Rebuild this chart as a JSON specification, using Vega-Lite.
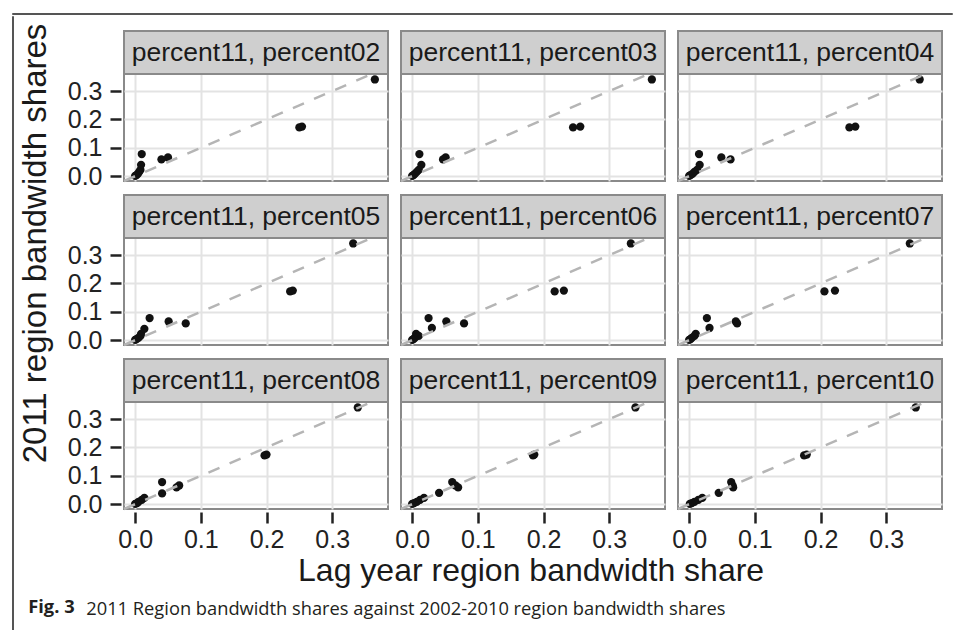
{
  "$schema": "https://vega.github.io/schema/vega-lite/v6.json",
  "background": "white",
  "padding": {"left": 11, "top": 12, "right": 0, "bottom": 0},
  "config": {
    "font": "Liberation Sans",
    "view": {"stroke": "#8a8a8a", "strokeWidth": 2},
    "concat": {"spacing": 0},
    "header": {"labels": false, "title": null, "labelFontSize": 0.01, "labelPadding": 0},
    "headerFacet": {"labels": false, "title": null, "labelFontSize": 0.01, "labelPadding": 0}
  },
  "spacing": 0,
  "vconcat": [
    {
      "width": 940, "height": 1,
      "data": {"values": []},
      "mark": "rule",
      "encoding": {},
      "view": {"stroke": "#555555", "strokeWidth": 1}
    },
    {
      "spacing": 6,
      "hconcat": [
        {
          "width": 1, "height": 616,
          "data": {"values": []},
          "mark": "rule",
          "encoding": {},
          "view": {"stroke": "#555555", "strokeWidth": 1}
        },
        {
          "spacing": 6,
          "vconcat": [
            {
              "width": 1, "height": 1,
              "data": {"values": []},
              "mark": "rule",
              "encoding": {},
              "view": {"stroke": null}
            },
            {
              "title": {"text": "Fig. 3", "orient": "bottom", "anchor": "start", "font": "Open Sans", "fontSize": 18.3, "fontWeight": "bold", "color": "#231f20", "offset": 0, "dx": 8, "dy": -19},
              "vconcat": [
                {
                  "title": {"text": "2011 Region bandwidth shares against 2002-2010 region bandwidth shares", "orient": "bottom", "anchor": "start", "font": "Open Sans", "fontSize": 18.3, "fontWeight": "normal", "color": "#231f20", "offset": 14, "dx": 66},
                  "vconcat": [
                    {
                      "title": {"text": "Lag year region bandwidth share", "orient": "bottom", "anchor": "middle", "fontSize": 32, "fontWeight": "normal", "color": "#1a1a1a", "offset": 4, "dx": 49},
                      "vconcat": [
                        {
                          "data": {"values": [
                            {"panel": "percent11, percent02", "r": "A", "lag": 0.365, "share": 0.341},
                            {"panel": "percent11, percent02", "r": "B", "lag": 0.254, "share": 0.175},
                            {"panel": "percent11, percent02", "r": "C", "lag": 0.250, "share": 0.172},
                            {"panel": "percent11, percent02", "r": "D", "lag": 0.010, "share": 0.078},
                            {"panel": "percent11, percent02", "r": "E", "lag": 0.050, "share": 0.066},
                            {"panel": "percent11, percent02", "r": "F", "lag": 0.040, "share": 0.059},
                            {"panel": "percent11, percent02", "r": "G", "lag": 0.009, "share": 0.040},
                            {"panel": "percent11, percent02", "r": "H", "lag": 0.008, "share": 0.022},
                            {"panel": "percent11, percent02", "r": "I", "lag": 0.006, "share": 0.015},
                            {"panel": "percent11, percent02", "r": "J", "lag": 0.004, "share": 0.008},
                            {"panel": "percent11, percent02", "r": "K", "lag": 0.002, "share": 0.004},
                            {"panel": "percent11, percent02", "r": "L", "lag": 0.000, "share": 0.001},
                            {"panel": "percent11, percent03", "r": "A", "lag": 0.365, "share": 0.341},
                            {"panel": "percent11, percent03", "r": "B", "lag": 0.256, "share": 0.175},
                            {"panel": "percent11, percent03", "r": "C", "lag": 0.245, "share": 0.172},
                            {"panel": "percent11, percent03", "r": "D", "lag": 0.011, "share": 0.078},
                            {"panel": "percent11, percent03", "r": "E", "lag": 0.051, "share": 0.066},
                            {"panel": "percent11, percent03", "r": "F", "lag": 0.047, "share": 0.059},
                            {"panel": "percent11, percent03", "r": "G", "lag": 0.014, "share": 0.040},
                            {"panel": "percent11, percent03", "r": "H", "lag": 0.010, "share": 0.022},
                            {"panel": "percent11, percent03", "r": "I", "lag": 0.007, "share": 0.015},
                            {"panel": "percent11, percent03", "r": "J", "lag": 0.004, "share": 0.008},
                            {"panel": "percent11, percent03", "r": "K", "lag": 0.002, "share": 0.004},
                            {"panel": "percent11, percent03", "r": "L", "lag": 0.000, "share": 0.001},
                            {"panel": "percent11, percent04", "r": "A", "lag": 0.351, "share": 0.341},
                            {"panel": "percent11, percent04", "r": "B", "lag": 0.253, "share": 0.175},
                            {"panel": "percent11, percent04", "r": "C", "lag": 0.244, "share": 0.172},
                            {"panel": "percent11, percent04", "r": "D", "lag": 0.015, "share": 0.078},
                            {"panel": "percent11, percent04", "r": "E", "lag": 0.049, "share": 0.066},
                            {"panel": "percent11, percent04", "r": "F", "lag": 0.063, "share": 0.059},
                            {"panel": "percent11, percent04", "r": "G", "lag": 0.016, "share": 0.040},
                            {"panel": "percent11, percent04", "r": "H", "lag": 0.012, "share": 0.022},
                            {"panel": "percent11, percent04", "r": "I", "lag": 0.008, "share": 0.015},
                            {"panel": "percent11, percent04", "r": "J", "lag": 0.005, "share": 0.008},
                            {"panel": "percent11, percent04", "r": "K", "lag": 0.002, "share": 0.004},
                            {"panel": "percent11, percent04", "r": "L", "lag": 0.000, "share": 0.001},
                            {"panel": "percent11, percent05", "r": "A", "lag": 0.332, "share": 0.341},
                            {"panel": "percent11, percent05", "r": "B", "lag": 0.240, "share": 0.175},
                            {"panel": "percent11, percent05", "r": "C", "lag": 0.236, "share": 0.172},
                            {"panel": "percent11, percent05", "r": "D", "lag": 0.022, "share": 0.078},
                            {"panel": "percent11, percent05", "r": "E", "lag": 0.051, "share": 0.066},
                            {"panel": "percent11, percent05", "r": "F", "lag": 0.077, "share": 0.059},
                            {"panel": "percent11, percent05", "r": "G", "lag": 0.014, "share": 0.040},
                            {"panel": "percent11, percent05", "r": "H", "lag": 0.009, "share": 0.022},
                            {"panel": "percent11, percent05", "r": "I", "lag": 0.008, "share": 0.015},
                            {"panel": "percent11, percent05", "r": "J", "lag": 0.005, "share": 0.008},
                            {"panel": "percent11, percent05", "r": "K", "lag": 0.002, "share": 0.004},
                            {"panel": "percent11, percent05", "r": "L", "lag": 0.000, "share": 0.001},
                            {"panel": "percent11, percent06", "r": "A", "lag": 0.333, "share": 0.341},
                            {"panel": "percent11, percent06", "r": "B", "lag": 0.231, "share": 0.175},
                            {"panel": "percent11, percent06", "r": "C", "lag": 0.217, "share": 0.172},
                            {"panel": "percent11, percent06", "r": "D", "lag": 0.025, "share": 0.078},
                            {"panel": "percent11, percent06", "r": "E", "lag": 0.052, "share": 0.066},
                            {"panel": "percent11, percent06", "r": "F", "lag": 0.079, "share": 0.059},
                            {"panel": "percent11, percent06", "r": "G", "lag": 0.030, "share": 0.043},
                            {"panel": "percent11, percent06", "r": "H", "lag": 0.006, "share": 0.022},
                            {"panel": "percent11, percent06", "r": "I", "lag": 0.010, "share": 0.015},
                            {"panel": "percent11, percent06", "r": "J", "lag": 0.004, "share": 0.008},
                            {"panel": "percent11, percent06", "r": "K", "lag": 0.002, "share": 0.004},
                            {"panel": "percent11, percent06", "r": "L", "lag": 0.000, "share": 0.001},
                            {"panel": "percent11, percent07", "r": "A", "lag": 0.336, "share": 0.341},
                            {"panel": "percent11, percent07", "r": "B", "lag": 0.222, "share": 0.175},
                            {"panel": "percent11, percent07", "r": "C", "lag": 0.206, "share": 0.172},
                            {"panel": "percent11, percent07", "r": "D", "lag": 0.027, "share": 0.078},
                            {"panel": "percent11, percent07", "r": "E", "lag": 0.071, "share": 0.066},
                            {"panel": "percent11, percent07", "r": "F", "lag": 0.073, "share": 0.059},
                            {"panel": "percent11, percent07", "r": "G", "lag": 0.031, "share": 0.043},
                            {"panel": "percent11, percent07", "r": "H", "lag": 0.010, "share": 0.022},
                            {"panel": "percent11, percent07", "r": "I", "lag": 0.008, "share": 0.015},
                            {"panel": "percent11, percent07", "r": "J", "lag": 0.004, "share": 0.008},
                            {"panel": "percent11, percent07", "r": "K", "lag": 0.002, "share": 0.004},
                            {"panel": "percent11, percent07", "r": "L", "lag": 0.000, "share": 0.001},
                            {"panel": "percent11, percent08", "r": "A", "lag": 0.339, "share": 0.341},
                            {"panel": "percent11, percent08", "r": "B", "lag": 0.200, "share": 0.175},
                            {"panel": "percent11, percent08", "r": "C", "lag": 0.197, "share": 0.172},
                            {"panel": "percent11, percent08", "r": "D", "lag": 0.041, "share": 0.078},
                            {"panel": "percent11, percent08", "r": "E", "lag": 0.067, "share": 0.066},
                            {"panel": "percent11, percent08", "r": "F", "lag": 0.063, "share": 0.059},
                            {"panel": "percent11, percent08", "r": "G", "lag": 0.041, "share": 0.038},
                            {"panel": "percent11, percent08", "r": "H", "lag": 0.014, "share": 0.022},
                            {"panel": "percent11, percent08", "r": "I", "lag": 0.010, "share": 0.015},
                            {"panel": "percent11, percent08", "r": "J", "lag": 0.005, "share": 0.008},
                            {"panel": "percent11, percent08", "r": "K", "lag": 0.003, "share": 0.004},
                            {"panel": "percent11, percent08", "r": "L", "lag": 0.000, "share": 0.001},
                            {"panel": "percent11, percent09", "r": "A", "lag": 0.340, "share": 0.341},
                            {"panel": "percent11, percent09", "r": "B", "lag": 0.186, "share": 0.175},
                            {"panel": "percent11, percent09", "r": "C", "lag": 0.184, "share": 0.172},
                            {"panel": "percent11, percent09", "r": "D", "lag": 0.061, "share": 0.078},
                            {"panel": "percent11, percent09", "r": "E", "lag": 0.066, "share": 0.066},
                            {"panel": "percent11, percent09", "r": "F", "lag": 0.070, "share": 0.059},
                            {"panel": "percent11, percent09", "r": "G", "lag": 0.041, "share": 0.040},
                            {"panel": "percent11, percent09", "r": "H", "lag": 0.018, "share": 0.022},
                            {"panel": "percent11, percent09", "r": "I", "lag": 0.012, "share": 0.015},
                            {"panel": "percent11, percent09", "r": "J", "lag": 0.007, "share": 0.008},
                            {"panel": "percent11, percent09", "r": "K", "lag": 0.003, "share": 0.004},
                            {"panel": "percent11, percent09", "r": "L", "lag": 0.000, "share": 0.001},
                            {"panel": "percent11, percent10", "r": "A", "lag": 0.345, "share": 0.341},
                            {"panel": "percent11, percent10", "r": "B", "lag": 0.179, "share": 0.175},
                            {"panel": "percent11, percent10", "r": "C", "lag": 0.175, "share": 0.172},
                            {"panel": "percent11, percent10", "r": "D", "lag": 0.064, "share": 0.078},
                            {"panel": "percent11, percent10", "r": "E", "lag": 0.066, "share": 0.066},
                            {"panel": "percent11, percent10", "r": "F", "lag": 0.067, "share": 0.059},
                            {"panel": "percent11, percent10", "r": "G", "lag": 0.045, "share": 0.040},
                            {"panel": "percent11, percent10", "r": "H", "lag": 0.020, "share": 0.022},
                            {"panel": "percent11, percent10", "r": "I", "lag": 0.014, "share": 0.015},
                            {"panel": "percent11, percent10", "r": "J", "lag": 0.008, "share": 0.008},
                            {"panel": "percent11, percent10", "r": "K", "lag": 0.004, "share": 0.004},
                            {"panel": "percent11, percent10", "r": "L", "lag": 0.001, "share": 0.001}
                          ]},
                          "title": {"text": "2011 region bandwidth shares", "orient": "left", "anchor": "middle", "fontSize": 33, "fontWeight": "normal", "color": "#1a1a1a", "offset": 14, "dx": 47},
                          "facet": {"field": "panel", "type": "nominal", "header": {"labels": false, "title": null, "labelExpr": "''", "labelFontSize": 0.01, "labelPadding": 0}},
                          "columns": 3,
                          "spacing": {"row": 8, "column": 8},
                          "spec": {
                            "width": 264,
                            "height": 150,
                            "layer": [
                              {
                                "mark": {"type": "circle", "size": 68, "color": "#111111", "opacity": 1},
                                "encoding": {
                                  "x": {
                                    "field": "lag", "type": "quantitative",
                                    "scale": {"domain": [-0.017, 0.385], "nice": false, "zero": false},
                                    "axis": {
                                      "title": null, "values": [0, 0.05, 0.1, 0.15, 0.2, 0.25, 0.3, 0.35],
                                      "labelExpr": "round(datum.value*100) % 10 == 5 ? '' : format(datum.value, '.1f')",
                                      "domain": false, "labelFontSize": 25, "labelColor": "#222222", "labelPadding": 4,
                                      "tickSize": 11, "tickWidth": 2.5,
                                      "tickColor": {"condition": {"test": "round(datum.value*100) % 10 == 5", "value": "transparent"}, "value": "#222222"},
                                      "gridColor": {"condition": {"test": "round(datum.value*100) % 10 == 5", "value": "#f2f2f2"}, "value": "#e3e3e3"},
                                      "gridWidth": {"condition": {"test": "round(datum.value*100) % 10 == 5", "value": 1.2}, "value": 2}
                                    }
                                  },
                                  "y": {
                                    "field": "share", "type": "quantitative",
                                    "scale": {"domain": [-0.017, 0.512], "nice": false, "zero": false},
                                    "axis": {
                                      "title": null, "values": [0, 0.05, 0.1, 0.15, 0.2, 0.25, 0.3, 0.35],
                                      "labelExpr": "round(datum.value*100) % 10 == 5 ? '' : format(datum.value, '.1f')",
                                      "domain": false, "labelFontSize": 25, "labelColor": "#222222", "labelPadding": 8,
                                      "tickSize": 11, "tickWidth": 2.5,
                                      "tickColor": {"condition": {"test": "round(datum.value*100) % 10 == 5", "value": "transparent"}, "value": "#222222"},
                                      "gridColor": {"condition": {"test": "round(datum.value*100) % 10 == 5", "value": "#f2f2f2"}, "value": "#e3e3e3"},
                                      "gridWidth": {"condition": {"test": "round(datum.value*100) % 10 == 5", "value": 1.2}, "value": 2}
                                    }
                                  }
                                }
                              },
                              {
                                "transform": [{"aggregate": [{"op": "count", "as": "n"}], "groupby": ["panel"]}],
                                "mark": {"type": "rule", "color": "#b5b5b5", "strokeWidth": 2.5, "strokeDash": [12, 11]},
                                "encoding": {
                                  "x": {"datum": -0.017, "type": "quantitative"},
                                  "y": {"datum": -0.017, "type": "quantitative"},
                                  "x2": {"datum": 0.36},
                                  "y2": {"datum": 0.36}
                                }
                              },
                              {
                                "transform": [{"aggregate": [{"op": "count", "as": "n"}], "groupby": ["panel"]}],
                                "mark": {"type": "rect", "fill": "#cfcfcf", "stroke": "#8a8a8a", "strokeWidth": 2},
                                "encoding": {
                                  "x": {"datum": -0.017, "type": "quantitative"},
                                  "x2": {"datum": 0.385},
                                  "y": {"datum": 0.36, "type": "quantitative"},
                                  "y2": {"datum": 0.512}
                                }
                              },
                              {
                                "transform": [{"aggregate": [{"op": "count", "as": "n"}], "groupby": ["panel"]}],
                                "mark": {"type": "text", "fontSize": 26.5, "color": "#1a1a1a", "align": "center", "baseline": "middle"},
                                "encoding": {
                                  "x": {"datum": 0.184, "type": "quantitative"},
                                  "y": {"datum": 0.436, "type": "quantitative"},
                                  "text": {"field": "panel"}
                                }
                              }
                            ]
                          }
                        }
                      ]
                    }
                  ]
                }
              ]
            }
          ]
        }
      ]
    }
  ]
}
